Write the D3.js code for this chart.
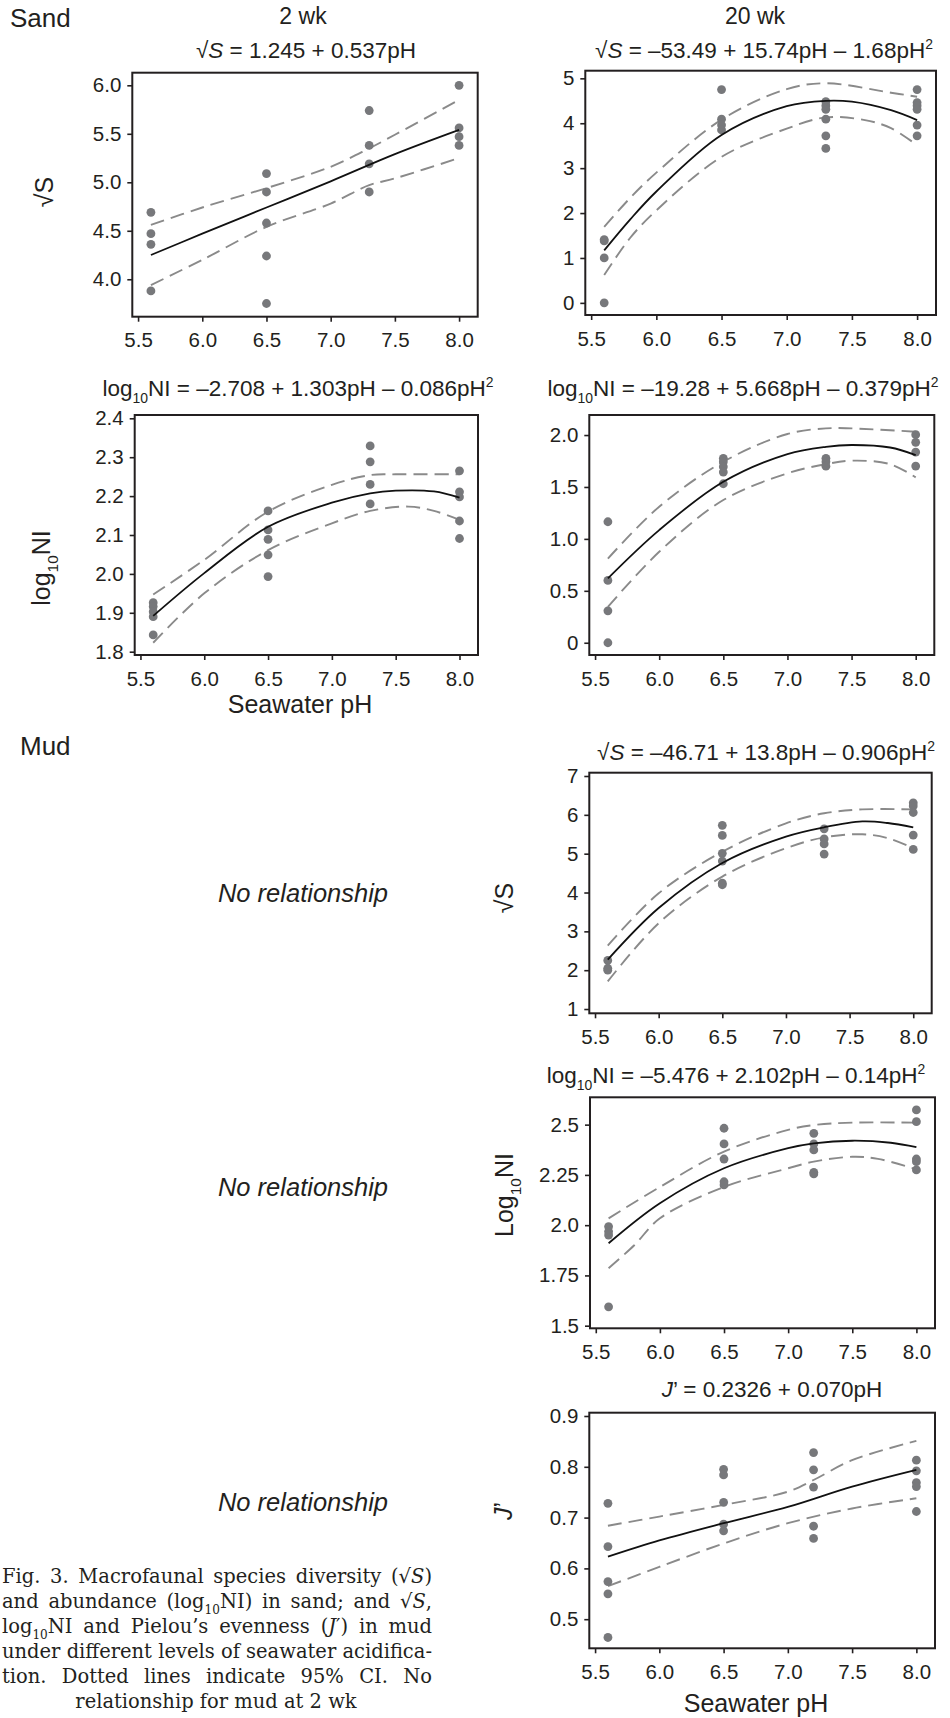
<!DOCTYPE html>
<html>
<head>
<meta charset="utf-8">
<script src="https://cdn.jsdelivr.net/npm/d3@7"></script>
<style>
  body { margin: 0; background: #fff; }
  svg { display: block; }
</style>
</head>
<body>
<svg id="fig" width="950" height="1718"></svg>
<script>
// ---- data ----
const phTicks = [5.5, 6.0, 6.5, 7.0, 7.5, 8.0];
const phTickLabels = ["5.5", "6.0", "6.5", "7.0", "7.5", "8.0"];

// Sand, 2 wk, sqrt S
const sand2S_pts = [[5.6,4.69],[5.6,4.47],[5.6,4.36],[5.6,3.88],
  [6.5,5.09],[6.5,4.90],[6.5,4.58],[6.5,4.24],[6.5,3.75],
  [7.3,5.74],[7.3,5.38],[7.3,5.19],[7.3,4.90],
  [8.0,6.00],[8.0,5.56],[8.0,5.47],[8.0,5.38]];
const sand2S_fit = [[5.6,4.25],[6.0,4.47],[6.5,4.74],[7.0,5.01],[7.5,5.29],[8.0,5.54]];
const sand2S_upr = [[5.6,4.56],[6.0,4.74],[6.5,4.94],[7.0,5.16],[7.3,5.35],[7.5,5.49],[8.0,5.85]];
const sand2S_lwr = [[5.6,3.94],[6.0,4.20],[6.5,4.54],[7.0,4.78],[7.3,4.97],[7.5,5.04],[8.0,5.25]];
const sand2S_ticks = [4.0, 4.5, 5.0, 5.5, 6.0];
const sand2S_tickLabels = ["4.0", "4.5", "5.0", "5.5", "6.0"];

// Sand, 20 wk, sqrt S
const sand20S_pts = [[5.6,1.41],[5.6,1.38],[5.6,1.0],[5.6,0],
  [6.5,4.75],[6.5,4.09],[6.5,3.96],[6.5,3.85],
  [7.3,4.48],[7.3,4.39],[7.3,4.31],[7.3,4.09],[7.3,3.72],[7.3,3.44],
  [8.0,4.75],[8.0,4.46],[8.0,4.39],[8.0,4.31],[8.0,3.96],[8.0,3.72]];
const sand20S_fit = [[5.6,1.17],[5.8,1.86],[6.0,2.48],[6.5,3.74],[7.0,4.38],[7.3,4.50],[7.5,4.48],[7.8,4.29],[8.0,4.07]];
const sand20S_upr = [[5.6,1.69],[5.8,2.34],[6.0,2.90],[6.5,4.08],[7.0,4.76],[7.3,4.89],[7.8,4.68],[8.0,4.59]];
const sand20S_lwr = [[5.6,0.62],[5.8,1.45],[6.0,2.06],[6.5,3.25],[7.0,3.88],[7.3,4.13],[7.6,4.07],[7.8,3.89],[8.0,3.51]];
const sand20S_ticks = [0, 1, 2, 3, 4, 5];
const sand20S_tickLabels = ["0", "1", "2", "3", "4", "5"];

// Sand, 2 wk, log10 NI
const sand2N_pts = [[5.6,1.926],[5.6,1.916],[5.6,1.903],[5.6,1.890],[5.6,1.843],
  [6.5,2.162],[6.5,2.113],[6.5,2.089],[6.5,2.049],[6.5,1.993],
  [7.3,2.329],[7.3,2.288],[7.3,2.230],[7.3,2.180],
  [8.0,2.265],[8.0,2.211],[8.0,2.198],[8.0,2.136],[8.0,2.091]];
const sand2N_fit = [[5.6,1.892],[6.0,2.002],[6.5,2.121],[7.0,2.183],[7.3,2.207],[7.5,2.214],[7.8,2.212],[8.0,2.196]];
const sand2N_upr = [[5.6,1.947],[6.0,2.036],[6.5,2.160],[7.0,2.229],[7.3,2.254],[7.5,2.256],[8.0,2.256]];
const sand2N_lwr = [[5.6,1.823],[6.0,1.950],[6.5,2.061],[7.0,2.130],[7.3,2.162],[7.6,2.173],[7.8,2.162],[8.0,2.139]];
const sand2N_ticks = [1.8, 1.9, 2.0, 2.1, 2.2, 2.3, 2.4];
const sand2N_tickLabels = ["1.8", "1.9", "2.0", "2.1", "2.2", "2.3", "2.4"];

// Sand, 20 wk, log10 NI
const sand20N_pts = [[5.6,1.165],[5.6,0.60],[5.6,0.307],[5.6,0],
  [6.5,1.776],[6.5,1.743],[6.5,1.695],[6.5,1.644],[6.5,1.531],
  [7.3,1.776],[7.3,1.743],[7.3,1.700],
  [8.0,2.003],[8.0,1.930],[8.0,1.836],[8.0,1.701]];
const sand20N_fit = [[5.6,0.62],[6.0,1.085],[6.5,1.55],[7.0,1.817],[7.3,1.887],[7.5,1.904],[7.8,1.88],[8.0,1.807]];
const sand20N_upr = [[5.6,0.81],[6.0,1.31],[6.5,1.743],[7.0,2.01],[7.3,2.064],[7.5,2.064],[8.0,2.032]];
const sand20N_lwr = [[5.6,0.346],[6.0,0.876],[6.5,1.374],[7.0,1.631],[7.3,1.72],[7.5,1.753],[7.8,1.72],[8.0,1.592]];
const sand20N_ticks = [0, 0.5, 1.0, 1.5, 2.0];
const sand20N_tickLabels = ["0", "0.5", "1.0", "1.5", "2.0"];

// Mud, 20 wk, sqrt S
const mud20S_pts = [[5.6,2.25],[5.6,2.05],[5.6,2.0],
  [6.5,5.73],[6.5,5.47],[6.5,5.01],[6.5,4.81],[6.5,4.24],[6.5,4.20],
  [7.3,5.64],[7.3,5.38],[7.3,5.25],[7.3,4.99],
  [8.0,6.31],[8.0,6.23],[8.0,6.06],[8.0,5.48],[8.0,5.11]];
const mud20S_fit = [[5.6,2.27],[6.0,3.60],[6.5,4.76],[7.0,5.44],[7.3,5.68],[7.6,5.83],[7.8,5.79],[8.0,5.68]];
const mud20S_upr = [[5.6,2.63],[6.0,3.98],[6.5,5.05],[7.0,5.78],[7.3,6.04],[7.6,6.14],[8.0,6.14]];
const mud20S_lwr = [[5.6,1.71],[6.0,3.21],[6.5,4.41],[7.0,5.14],[7.3,5.42],[7.6,5.50],[7.8,5.40],[8.0,5.14]];
const mud20S_ticks = [1, 2, 3, 4, 5, 6, 7];
const mud20S_tickLabels = ["1", "2", "3", "4", "5", "6", "7"];

// Mud, 20 wk, log10 NI
const mud20N_pts = [[5.6,1.993],[5.6,1.968],[5.6,1.951],[5.6,1.594],
  [6.5,2.482],[6.5,2.404],[6.5,2.329],[6.5,2.216],[6.5,2.200],
  [7.2,2.457],[7.2,2.404],[7.2,2.374],[7.2,2.263],[7.2,2.255],
  [8.0,2.573],[8.0,2.515],[8.0,2.329],[8.0,2.316],[8.0,2.275]];
const mud20N_fit = [[5.6,1.91],[6.0,2.109],[6.5,2.283],[7.0,2.383],[7.2,2.407],[7.5,2.42],[7.8,2.41],[8.0,2.388]];
const mud20N_upr = [[5.6,2.034],[6.0,2.19],[6.5,2.366],[7.0,2.474],[7.2,2.498],[7.5,2.51],[8.0,2.51]];
const mud20N_lwr = [[5.6,1.786],[5.8,1.90],[6.0,2.034],[6.5,2.19],[7.0,2.283],[7.2,2.316],[7.5,2.34],[7.7,2.33],[8.0,2.278]];
const mud20N_ticks = [1.5, 1.75, 2.0, 2.25, 2.5];
const mud20N_tickLabels = ["1.5", "1.75", "2.0", "2.25", "2.5"];

// Mud, 20 wk, Pielou's J'
const mud20J_pts = [[5.6,0.728],[5.6,0.643],[5.6,0.574],[5.6,0.550],[5.6,0.464],
  [6.5,0.795],[6.5,0.784],[6.5,0.730],[6.5,0.687],[6.5,0.674],
  [7.2,0.828],[7.2,0.794],[7.2,0.760],[7.2,0.683],[7.2,0.659],
  [8.0,0.813],[8.0,0.792],[8.0,0.769],[8.0,0.761],[8.0,0.712]];
const mud20J_fit = [[5.6,0.623],[6.0,0.655],[6.5,0.689],[7.0,0.721],[7.5,0.761],[8.0,0.794]];
const mud20J_upr = [[5.6,0.684],[6.0,0.702],[6.5,0.725],[7.0,0.751],[7.2,0.774],[7.5,0.813],[8.0,0.851]];
const mud20J_lwr = [[5.6,0.565],[6.0,0.603],[6.5,0.649],[7.0,0.689],[7.5,0.718],[8.0,0.738]];
const mud20J_ticks = [0.5, 0.6, 0.7, 0.8, 0.9];
const mud20J_tickLabels = ["0.5", "0.6", "0.7", "0.8", "0.9"];

// ---- layout ----
const sans = "'Liberation Sans', Arial, Helvetica, sans-serif";
const serif = "'DejaVu Serif', 'Liberation Serif', serif";
const ink = "#231f20";
const dotCol = "#77787b";
const ciCol = "#8a8a8a";
const phDomain = [5.455, 8.145];

const svg = d3.select("#fig").style("font-family", sans);

// segments: [text, kind]  kind: "" | "i" | "sub" | "sup"
function rich(sel, segs) {
  let shift = 0;
  segs.forEach(([t, k]) => {
    const target = k === "sub" ? 0.32 : k === "sup" ? -0.42 : 0;
    const small = (k === "sub" || k === "sup");
    const ts = sel.append("tspan").text(t);
    if (small) ts.style("font-size", "62%");
    if (target !== shift) ts.attr("dy", ((target - shift) / (small ? 0.62 : 1)) + "em");
    if (k === "i") ts.style("font-style", "italic");
    shift = target;
  });
}

const panels = [
  { box: [132.3, 72.7, 477.7, 316.7], yDom: [3.614, 6.13], ticks: sand2S_ticks, labels: sand2S_tickLabels,
    pts: sand2S_pts, fit: sand2S_fit, upr: sand2S_upr, lwr: sand2S_lwr,
    title: [["√", ""], ["S", "i"], [" = 1.245 + 0.537pH", ""]], tx: 306, ty: 58 },
  { box: [585.3, 70.7, 936, 315], yDom: [-0.27, 5.17], ticks: sand20S_ticks, labels: sand20S_tickLabels,
    pts: sand20S_pts, fit: sand20S_fit, upr: sand20S_upr, lwr: sand20S_lwr,
    title: [["√", ""], ["S", "i"], [" = –53.49 + 15.74pH – 1.68pH", ""], ["2", "sup"]], tx: 764, ty: 58 },
  { box: [134.7, 415, 478, 655], yDom: [1.7915, 2.4085], ticks: sand2N_ticks, labels: sand2N_tickLabels,
    pts: sand2N_pts, fit: sand2N_fit, upr: sand2N_upr, lwr: sand2N_lwr,
    title: [["log", ""], ["10", "sub"], ["NI = –2.708 + 1.303pH – 0.086pH", ""], ["2", "sup"]], tx: 298, ty: 396 },
  { box: [589.3, 415, 934.3, 655], yDom: [-0.118, 2.193], ticks: sand20N_ticks, labels: sand20N_tickLabels,
    pts: sand20N_pts, fit: sand20N_fit, upr: sand20N_upr, lwr: sand20N_lwr,
    title: [["log", ""], ["10", "sub"], ["NI = –19.28 + 5.668pH – 0.379pH", ""], ["2", "sup"]], tx: 743, ty: 396 },
  { box: [589.3, 772.7, 931.7, 1013.3], yDom: [0.89, 7.085], ticks: mud20S_ticks, labels: mud20S_tickLabels,
    pts: mud20S_pts, fit: mud20S_fit, upr: mud20S_upr, lwr: mud20S_lwr,
    title: [["√", ""], ["S", "i"], [" = –46.71 + 13.8pH – 0.906pH", ""], ["2", "sup"]], tx: 766, ty: 760 },
  { box: [590, 1097.3, 935, 1328.3], yDom: [1.487, 2.636], ticks: mud20N_ticks, labels: mud20N_tickLabels,
    pts: mud20N_pts, fit: mud20N_fit, upr: mud20N_upr, lwr: mud20N_lwr,
    title: [["log", ""], ["10", "sub"], ["NI = –5.476 + 2.102pH – 0.14pH", ""], ["2", "sup"]], tx: 736, ty: 1083 },
  { box: [589.3, 1412.7, 935, 1648.3], yDom: [0.4427, 0.9065], ticks: mud20J_ticks, labels: mud20J_tickLabels,
    pts: mud20J_pts, fit: mud20J_fit, upr: mud20J_upr, lwr: mud20J_lwr,
    title: [["J", "i"], ["’ = 0.2326 + 0.070pH", ""]], tx: 772, ty: 1397 }
];

panels.forEach(p => {
  const [x0, y0, x1, y1] = p.box;
  const x = d3.scaleLinear().domain(phDomain).range([x0, x1]);
  const y = d3.scaleLinear().domain(p.yDom).range([y1, y0]);
  const g = svg.append("g");

  const line = d3.line().x(d => x(d[0])).y(d => y(d[1])).curve(d3.curveCatmullRom.alpha(0.5));

  [p.upr, p.lwr].forEach(ci => {
    g.append("path").attr("d", line(ci)).attr("fill", "none")
      .attr("stroke", ciCol).attr("stroke-width", 1.9).attr("stroke-dasharray", "14,7");
  });

  g.selectAll("circle.pt").data(p.pts).join("circle")
    .attr("class", "pt")
    .attr("cx", d => x(d[0])).attr("cy", d => y(d[1])).attr("r", 4.4)
    .attr("fill", dotCol);

  g.append("path").attr("d", line(p.fit)).attr("fill", "none")
    .attr("stroke", "#111").attr("stroke-width", 1.8);

  // axes
  const xa = g.append("g").attr("transform", `translate(0,${y1})`)
    .call(d3.axisBottom(x).tickValues(phTicks).tickFormat((d, i) => phTickLabels[i])
      .tickSize(5).tickPadding(11));
  const ya = g.append("g").attr("transform", `translate(${x0},0)`)
    .call(d3.axisLeft(y).tickValues(p.ticks).tickFormat((d, i) => p.labels[i])
      .tickSize(5).tickPadding(6));
  [xa, ya].forEach(a => {
    a.select(".domain").remove();
    a.selectAll("line").attr("stroke", ink).attr("stroke-width", 1.6);
    a.selectAll("text").attr("fill", ink).style("font-size", "20.5px").style("font-family", sans);
  });

  g.append("rect").attr("x", x0).attr("y", y0).attr("width", x1 - x0).attr("height", y1 - y0)
    .attr("fill", "none").attr("stroke", ink).attr("stroke-width", 2);

  const t = g.append("text").attr("x", p.tx).attr("y", p.ty).attr("text-anchor", "middle")
    .attr("fill", ink).style("font-size", "22.5px");
  rich(t, p.title);
});

// headers and labels
function label(txt, xx, yy, size, opts = {}) {
  const t = svg.append("text").attr("fill", ink).style("font-size", size + "px")
    .attr("text-anchor", opts.anchor || "middle");
  if (opts.rot) t.attr("transform", `translate(${xx},${yy}) rotate(-90)`);
  else t.attr("x", xx).attr("y", yy);
  if (opts.italic) t.style("font-style", "italic");
  if (Array.isArray(txt)) rich(t, txt); else t.text(txt);
  return t;
}

label("Sand", 10, 27, 26, { anchor: "start" });
label("Mud", 20, 755, 26, { anchor: "start" });
label("2 wk", 303, 24, 23);
label("20 wk", 755, 24, 23);

label("√S", 53, 192, 25, { rot: true });
label([["log", ""], ["10", "sub"], ["NI", ""]], 50, 568, 25, { rot: true });
label("√S", 513, 898, 25, { rot: true });
label([["Log", ""], ["10", "sub"], ["NI", ""]], 513, 1195, 25, { rot: true });
label([["J", "i"], ["’", ""]], 512, 1511, 25, { rot: true });

label("Seawater pH", 300, 713, 25);
label("Seawater pH", 756, 1712, 25);

label("No relationship", 303, 902, 25.5, { italic: true });
label("No relationship", 303, 1196, 25.5, { italic: true });
label("No relationship", 303, 1511, 25.5, { italic: true });

// caption, justified to 430 px by word spacing
const capLines = [
  [["Fig. 3. Macrofaunal species diversity (√", ""], ["S", "i"], [")", ""]],
  [["and abundance (log", ""], ["10", "sub"], ["NI) in sand; and √", ""], ["S", "i"], [",", ""]],
  [["log", ""], ["10", "sub"], ["NI and Pielou’s evenness (", ""], ["J", "i"], ["′) in mud", ""]],
  [["under different levels of seawater acidifica-", ""]],
  [["tion. Dotted lines indicate 95% CI. No", ""]],
  [["relationship for mud at 2 wk", ""]]
];
const capBase = [1583, 1608, 1633, 1658, 1683, 1708];
const capWidth = 430;

// pick a font size so the densest line fills the measure
const probe = svg.append("text").style("font-family", serif).style("font-size", "20px")
  .text("under different levels of seawater acidifica-");
const capSize = Math.min(21, 20 * capWidth / probe.node().getComputedTextLength());
probe.remove();

capLines.forEach((segs, i) => {
  const last = i === capLines.length - 1;
  const t = svg.append("text").attr("fill", ink).style("font-family", serif)
    .style("font-size", capSize + "px")
    .attr("x", last ? 216 : 2).attr("y", capBase[i])
    .attr("text-anchor", last ? "middle" : "start");
  rich(t, segs);
  if (!last) {
    const w = t.node().getComputedTextLength();
    const spaces = segs.map(s => s[0]).join("").split(" ").length - 1;
    t.style("word-spacing", ((capWidth - w) / spaces) + "px");
  }
});
</script>
</body>
</html>
